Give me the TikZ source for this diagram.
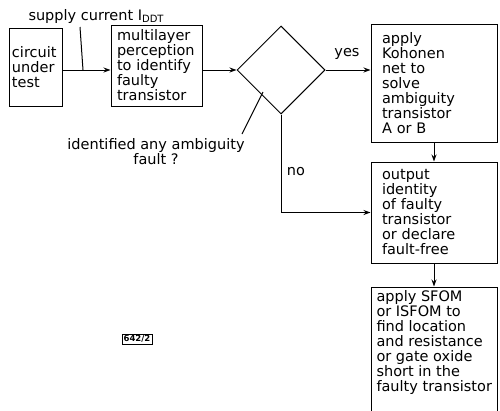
\documentclass[tikz,border=0pt]{standalone}
\usepackage{fontspec}
\setmainfont{DejaVu Sans}
\usetikzlibrary{shapes.geometric,arrows.meta}
\hyphenpenalty=10000
\newcommand\flowfont{\fontsize{14.5}{15}\selectfont}
\begin{document}
\begin{tikzpicture}[x=1pt,y=-1pt,line width=1pt,
  box/.style={draw,align=left,font=\flowfont,inner ysep=0pt},
  arr/.style={-{Stealth[length=7pt,width=5pt]}},
  lbl/.style={font=\flowfont,inner sep=0pt}]
\useasboundingbox (0,0) rectangle (500,410);
\clip (0,0) rectangle (500,410);
\node[box,inner xsep=3pt,text width=47pt,minimum height=78pt] (cut) at (35.5,67) {circuit\\under\\test};
\node[box,inner xsep=6pt,text width=79pt,minimum height=81pt] (mlp) at (156.5,65.5) {multilayer\\perception\\to identify\\faulty\\transistor};
\node[draw,diamond,minimum size=88pt,inner sep=0pt] (dia) at (281,70) {};
\node[box,inner xsep=11pt,text width=104pt,minimum height=118pt] (koh) at (434,83) {apply\\Kohonen\\net to\\solve\\ambiguity\\transistor\\A or B};
\node[box,inner xsep=11pt,text width=104pt,minimum height=101pt] (out) at (434,212.5) {output\\identity\\of faulty\\transistor\\or declare\\fault-free};
\node[draw,minimum width=126pt,minimum height=134pt,inner sep=0pt] (sfom) at (434,354) {};
\node[lbl,align=left,anchor=north west] (sfomtxt) at (376,290) {apply SFOM\\or ISFOM to\\find location\\and resistance\\or gate oxide\\short in the\\faulty transistor};
\node[lbl,anchor=base west] (supply) at (28,20) {supply current I\raisebox{-0.35ex}{\fontsize{10}{10}\selectfont DDT}};
\node[lbl,align=center] (query) at (156,152) {identified any ambiguity\\fault ?};
\node[lbl] (yes) at (347,54) {yes};
\node[lbl] (no) at (296,172) {no};
\node[draw,line width=0.6pt,font=\fontsize{8.5}{8.5}\selectfont\bfseries,inner sep=1.5pt] (tag) at (137,339) {642/2};
\coordinate (tapTop) at (80,27);\coordinate (tap) at (83,70);
\coordinate (q1) at (242,134);\coordinate (q2) at (263,92);
\draw[arr] (cut.east |- dia.west) -- (mlp.west |- dia.west);
\draw[arr] (mlp.east |- dia.west) -- (dia.west);
\draw[arr] (dia.east) -- (koh.west |- dia.east);
\draw[arr] (dia.south) |- (out.west);
\draw[arr] (koh.south) -- (out.north);
\draw[arr] (out.south) -- (sfom.north);
\draw (tapTop) -- (tap);
\draw (q1) -- (q2);
\end{tikzpicture}
\end{document}
